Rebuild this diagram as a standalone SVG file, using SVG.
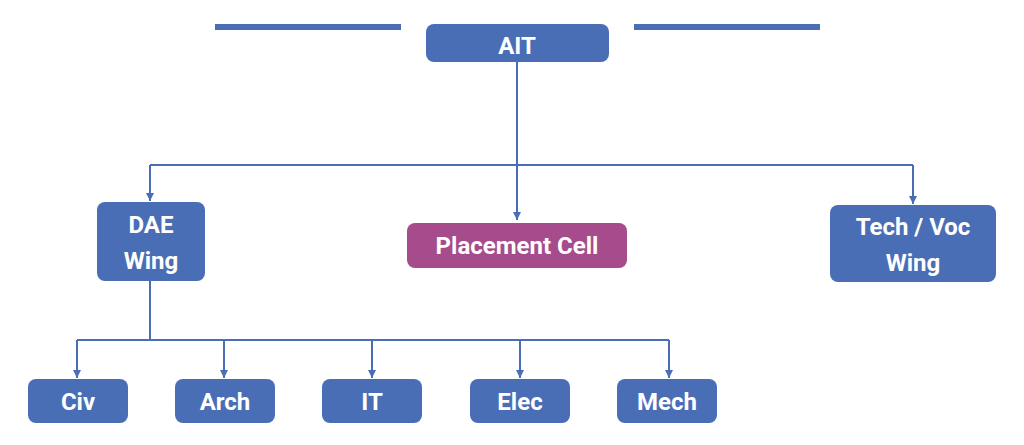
<svg xmlns="http://www.w3.org/2000/svg" width="1024" height="445" viewBox="0 0 1024 445">
<style>
.n{fill:#4A6EB6}
.p{fill:#A64B8C}
.t{font-family:Roboto,"Liberation Sans",sans-serif;font-weight:bold;font-size:24px;fill:#fff;text-anchor:middle}
.c{stroke:#4A6EB6;stroke-width:2;fill:none}
</style>
<defs><marker id="a" viewBox="0 0 10 10" refX="10" refY="5" markerWidth="4" markerHeight="4" orient="auto"><path d="M0,0L10,5L0,10z" fill="#4A6EB6"/></marker></defs>
<rect width="1024" height="445" fill="#fff"/>
<g id="deco"><rect x="215" y="24" width="186" height="6" class="n"/><rect x="634" y="24" width="186" height="6" class="n"/></g>
<g id="connectors" class="c">
<path d="M517 62V220" marker-end="url(#a)"/>
<path d="M150 165H913"/>
<path d="M150 165V201" marker-end="url(#a)"/>
<path d="M913 165V204" marker-end="url(#a)"/>
<path d="M150 281V340"/>
<path d="M77 340H669"/>
<path d="M77 340V378" marker-end="url(#a)"/>
<path d="M224 340V378" marker-end="url(#a)"/>
<path d="M372 340V378" marker-end="url(#a)"/>
<path d="M520 340V378" marker-end="url(#a)"/>
<path d="M669 340V378" marker-end="url(#a)"/>
</g>
<g id="ait"><rect x="426" y="24" width="183" height="38" rx="8" class="n"/><text x="517" y="54" class="t">AIT</text></g>
<g id="dae"><rect x="97" y="202" width="108" height="79" rx="8" class="n"/><text x="151" y="233" class="t">DAE</text><text x="151" y="269" class="t">Wing</text></g>
<g id="placement"><rect x="407" y="223" width="220" height="45" rx="8" class="p"/><text x="517" y="254" class="t">Placement Cell</text></g>
<g id="tech"><rect x="830" y="205" width="166" height="77" rx="8" class="n"/><text x="913" y="235" class="t">Tech / Voc</text><text x="913" y="271" class="t">Wing</text></g>
<g id="civ"><rect x="28" y="379" width="100" height="44" rx="8" class="n"/><text x="78" y="410" class="t">Civ</text></g>
<g id="arch"><rect x="175" y="379" width="100" height="44" rx="8" class="n"/><text x="225" y="410" class="t">Arch</text></g>
<g id="it"><rect x="322" y="379" width="100" height="44" rx="8" class="n"/><text x="372" y="410" class="t">IT</text></g>
<g id="elec"><rect x="470" y="379" width="100" height="44" rx="8" class="n"/><text x="520" y="410" class="t">Elec</text></g>
<g id="mech"><rect x="617" y="379" width="100" height="44" rx="8" class="n"/><text x="667" y="410" class="t">Mech</text></g>
</svg>
